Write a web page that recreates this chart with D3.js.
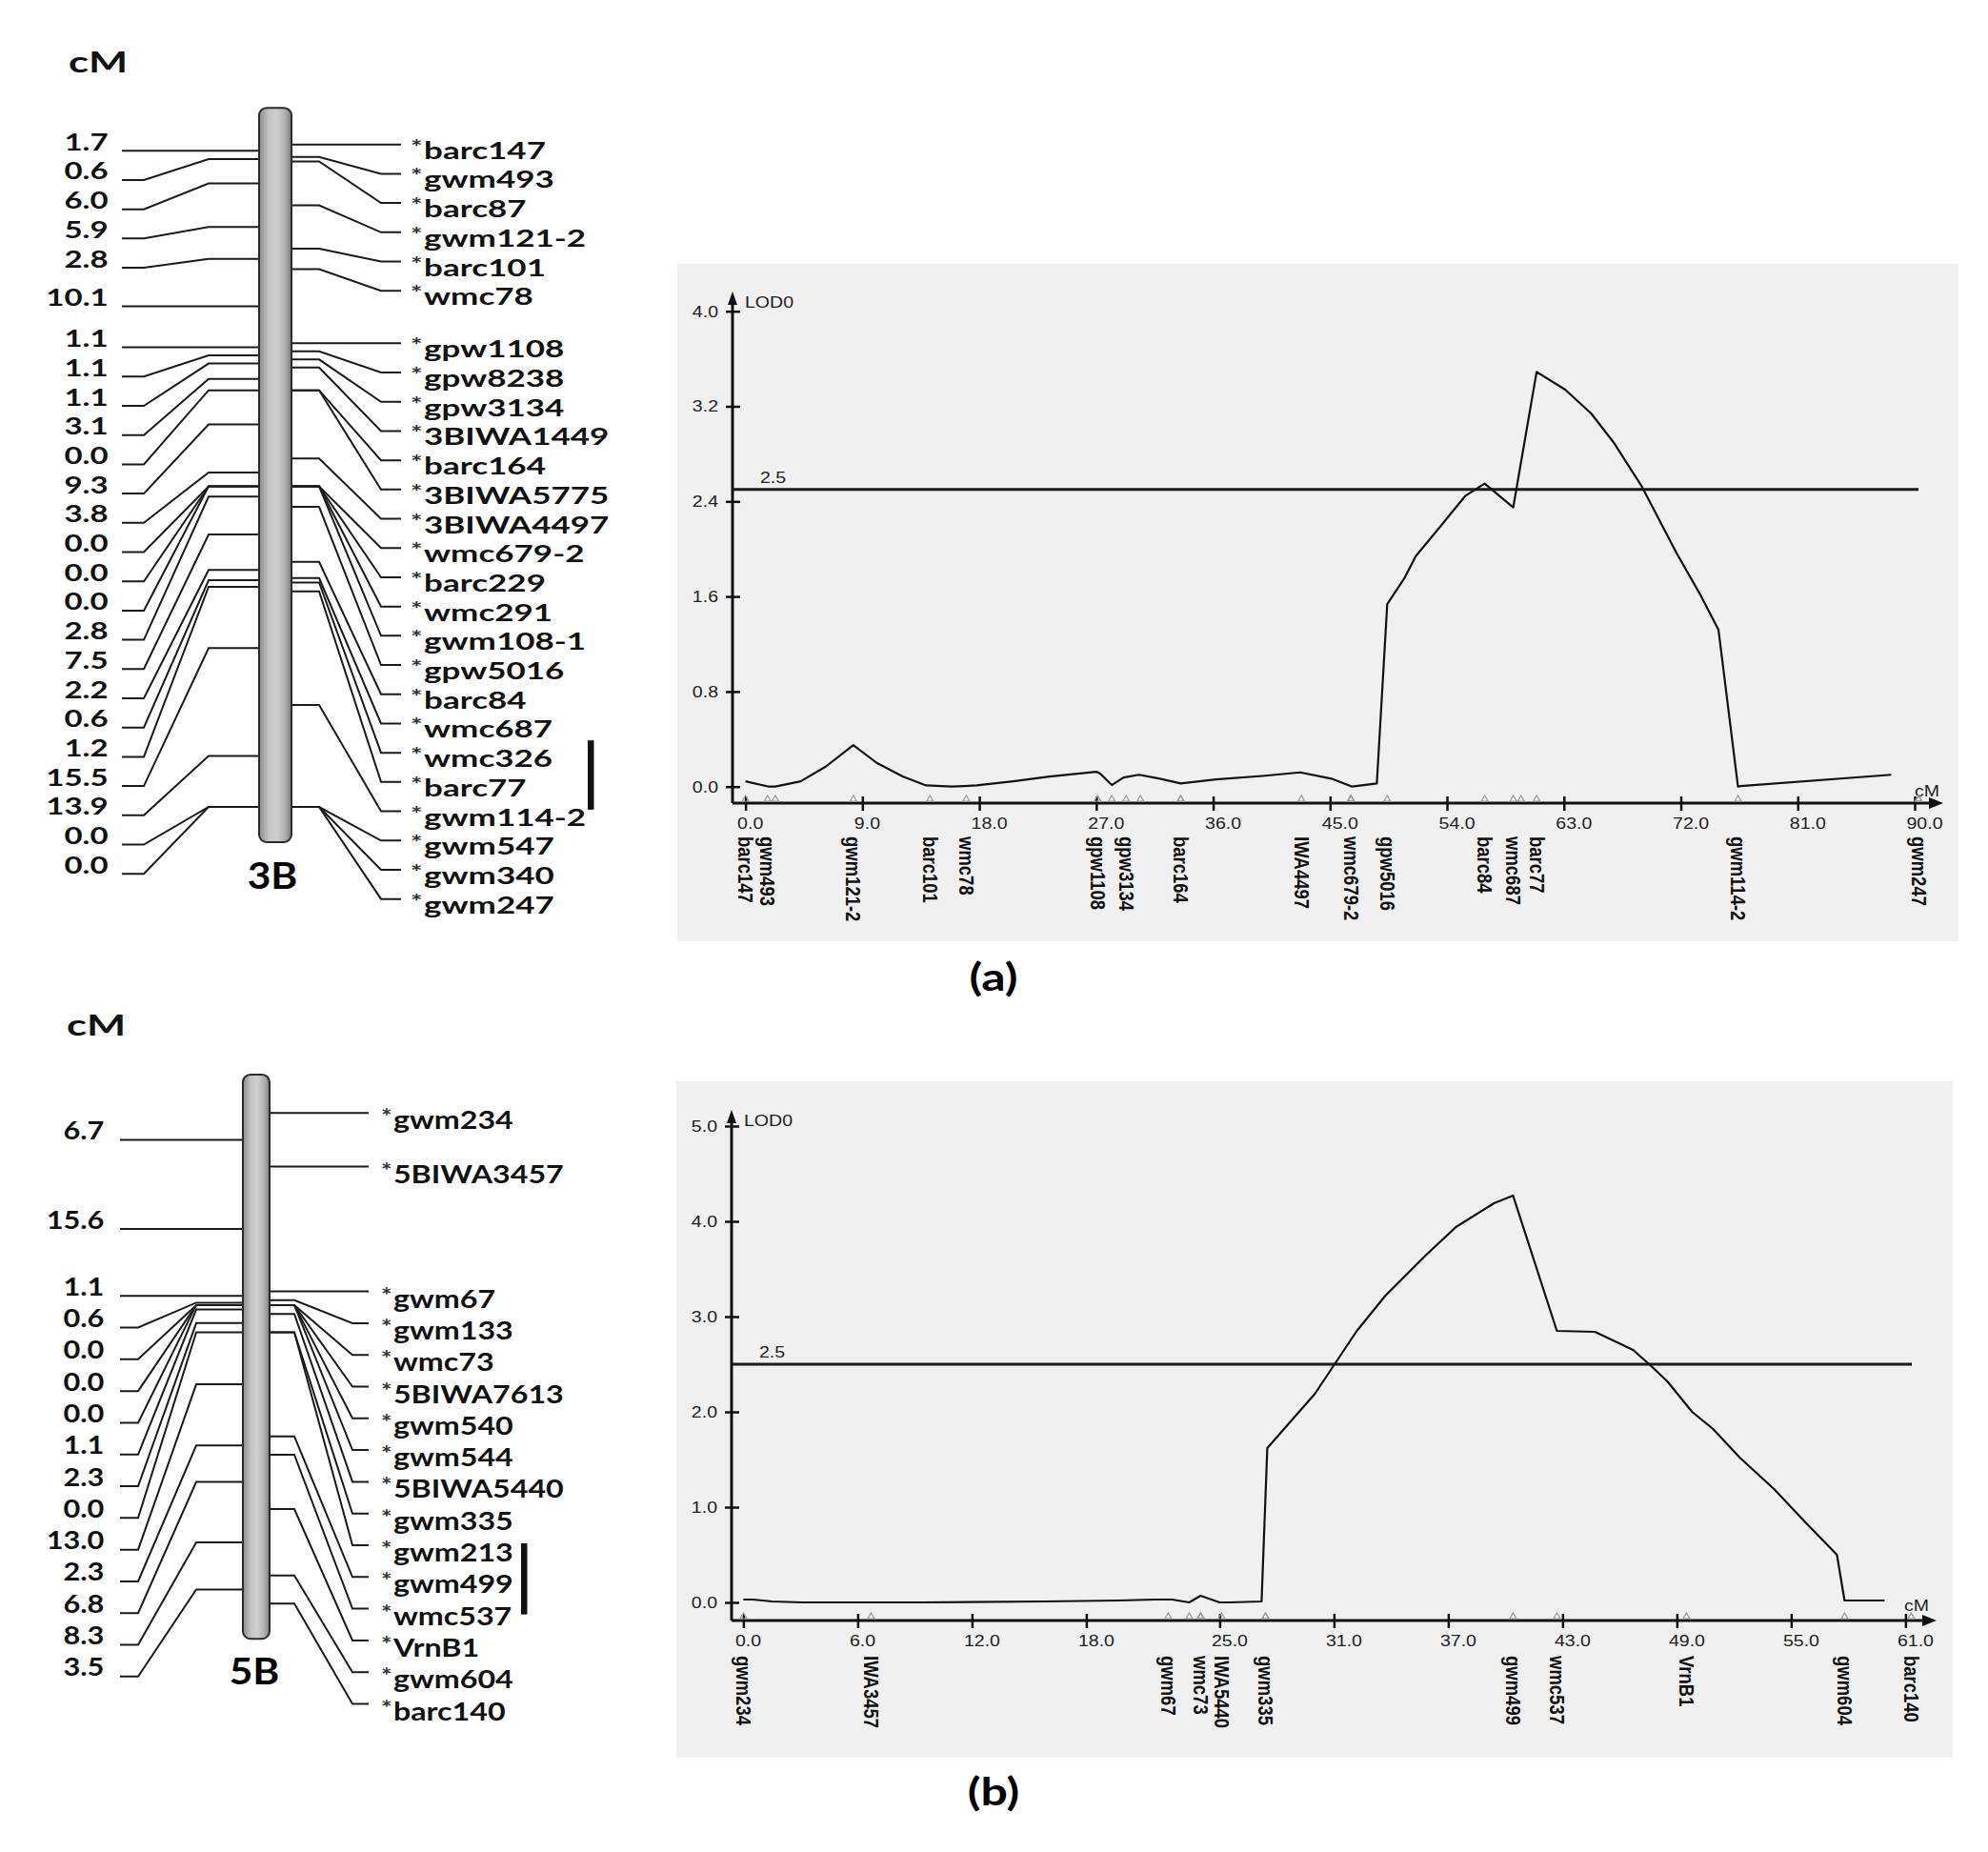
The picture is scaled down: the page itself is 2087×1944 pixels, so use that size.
<!DOCTYPE html>
<html><head><meta charset="utf-8">
<script src="https://cdn.jsdelivr.net/npm/d3@7"></script>
<style>body{margin:0;background:#fff} svg{display:block}</style>
</head><body>
<svg id="fig" width="2087" height="1944"></svg>
<script>
// ---------------- data ----------------
const markers3B = ["barc147","gwm493","barc87","gwm121-2","barc101","wmc78","gpw1108","gpw8238","gpw3134","3BIWA1449","barc164","3BIWA5775","3BIWA4497","wmc679-2","barc229","wmc291","gwm108-1","gpw5016","barc84","wmc687","wmc326","barc77","gwm114-2","gwm547","gwm340","gwm247"];
const intervals3B = [1.7,0.6,6.0,5.9,2.8,10.1,1.1,1.1,1.1,3.1,0.0,9.3,3.8,0.0,0.0,0.0,2.8,7.5,2.2,0.6,1.2,15.5,13.9,0.0,0.0];
const qtl3B = ["wmc326","barc77"];

const markers5B = ["gwm234","5BIWA3457","gwm67","gwm133","wmc73","5BIWA7613","gwm540","gwm544","5BIWA5440","gwm335","gwm213","gwm499","wmc537","VrnB1","gwm604","barc140"];
const intervals5B = [6.7,15.6,1.1,0.6,0.0,0.0,0.0,1.1,2.3,0.0,13.0,2.3,6.8,8.3,3.5];
const qtl5B = ["gwm213","wmc537"];

const lodA_cM = [0,1.8,2.3,4.25,6.2,8.3,10.1,12.1,13.9,15.9,17.8,20.6,23.4,27.0,27.3,28.2,29.1,30.3,31.9,33.5,36.2,39.8,42.7,45.1,46.7,48.6,49.4,50.7,51.6,53.5,55.4,56.9,59.1,60.9,63.1,65.1,66.9,69.0,71.7,73.5,74.9,76.4,76.6,88.2];
const lodA    = [0.045,0.0,0.0,0.045,0.17,0.35,0.2,0.085,0.01,0.0,0.01,0.045,0.085,0.125,0.11,0.013,0.077,0.1,0.067,0.027,0.06,0.09,0.12,0.067,0.0,0.027,1.535,1.75,1.94,2.19,2.445,2.55,2.35,3.49,3.34,3.14,2.885,2.525,1.96,1.615,1.32,0.0,0.005,0.1];
const xTicksA = [0,9,18,27,36,45,54,63,72,81,90];
const yTicksA = [0,0.8,1.6,2.4,3.2,4.0];
const labelsA = ["barc147","gwm493","gwm121-2","barc101","wmc78","gpw1108","gpw3134","barc164","IWA4497","wmc679-2","gpw5016","barc84","wmc687","barc77","gwm114-2","gwm247"];

const lodB_cM = [0,0.5,1.5,3.1,9.4,15.8,19.7,21.6,22.5,23.4,24.0,25.0,25.5,27.2,27.5,30.0,31.0,32.2,33.7,35.8,37.4,39.4,40.4,42.7,44.7,46.7,47.6,48.5,49.8,50.9,52.3,54.1,55.7,57.4,57.8,59.9];
const lodB    = [0.03,0.03,0.01,0.0,0.0,0.01,0.02,0.03,0.03,0.0,0.07,0.0,0.0,0.01,1.62,2.19,2.49,2.85,3.22,3.64,3.94,4.19,4.27,2.85,2.84,2.65,2.49,2.32,2.0,1.82,1.52,1.19,0.85,0.50,0.02,0.02];
const xTicksB = [0,6,12,18,25,31,37,43,49,55,61];
const yTicksB = [0,1,2,3,4,5];
const labelsB = ["gwm234","IWA3457","gwm67","wmc73","IWA5440","gwm335","gwm499","wmc537","VrnB1","gwm604","barc140"];

const threshold = 2.5;

// ---------------- helpers ----------------
const FONT_PLOT = "'Liberation Sans', Arial, sans-serif";
const FONT_MAP = "Lato, 'Open Sans', sans-serif";
const svg = d3.select("#fig");
svg.append("rect").attr("width",2087).attr("height",1944).attr("fill","#fff");

const defs = svg.append("defs");
const grad = defs.append("linearGradient").attr("id","chrom").attr("x1","0").attr("x2","1").attr("y1","0").attr("y2","0");
[["0%","#8c8c8c"],["30%","#c4c4c4"],["55%","#cfcfcf"],["80%","#b0b0b0"],["100%","#7d7d7d"]]
  .forEach(s=>grad.append("stop").attr("offset",s[0]).attr("stop-color",s[1]));

function sText(g, x, y, str, o) {
  return g.append("text")
    .attr("transform", `translate(${x},${y}) scale(${o.sx||1},1)`)
    .attr("text-anchor", o.anchor || "start")
    .attr("font-family", o.family || FONT_MAP)
    .attr("font-weight", o.weight || 700)
    .attr("font-size", o.size)
    .attr("fill", o.fill || "#111")
    .text(str);
}

function cumulative(intervals) {
  const p = [0];
  intervals.forEach((d,i)=>p.push(+(p[i]+d).toFixed(2)));
  return p;
}

// ---------------- linkage map ----------------
function drawMap(o) {
  const g = svg.append("g");
  const pos = cumulative(o.intervals);
  const total = pos[pos.length-1];
  const y = d3.scaleLinear().domain([0,total]).range([o.y0, o.y0 + o.k*total]);

  const rRows = [];
  pos.forEach((p,i)=>{ const yy = y(p); rRows.push(i===0 ? yy : Math.max(yy, rRows[i-1]+o.step)); });
  const mids = o.intervals.map((d,i)=>(pos[i]+pos[i+1])/2);
  const lRows = [];
  mids.forEach((m,i)=>{ const yy = y(m); lRows.push(i===0 ? yy : Math.max(yy, lRows[i-1]+o.step)); });

  const lineStyle = s => s.attr("fill","none").attr("stroke","#1a1a1a").attr("stroke-width",2);
  mids.forEach((m,i)=>{
    const ym = y(m), yr = lRows[i];
    g.append("path").attr("d", `M${o.lx0},${yr}H${o.lx1}L${o.lx2},${ym}H${o.barX}`).call(lineStyle);
    sText(g, o.leftTextX, yr - 0.5, o.intervals[i].toFixed(1), {anchor:"end", size:o.fs, sx:o.sxNum});
  });
  pos.forEach((p,i)=>{
    const yp = y(p), yr = rRows[i];
    g.append("path").attr("d", `M${o.barX+o.barW},${yp}H${o.rx1}L${o.rx2},${yr}H${o.rx3}`).call(lineStyle);
    const t = g.append("text")
      .attr("transform", `translate(${o.labelX},${yr + o.nameDy}) scale(${o.sx},1)`)
      .attr("font-family", FONT_MAP).attr("font-weight",700).attr("font-size",o.fs).attr("fill","#111");
    t.append("tspan").attr("font-size", o.fs*0.85).attr("font-weight",700).attr("fill","#333").attr("dy",-5).text("*");
    t.append("tspan").attr("dx",1).attr("dy",5).text(o.markers[i]);
  });
  g.append("rect").attr("x",o.barX).attr("width",o.barW)
    .attr("y", y(-o.padTop)).attr("height", y(total+o.padBot) - y(-o.padTop))
    .attr("rx", 8).attr("ry", 8)
    .attr("fill","url(#chrom)").attr("stroke","#2b2b2b").attr("stroke-width",2);

  const i0 = o.markers.indexOf(o.qtl[0]), i1 = o.markers.indexOf(o.qtl[1]);
  g.append("rect").attr("x",o.qtlX).attr("width",6.5)
    .attr("y", rRows[i0] + o.qtlOff[0]).attr("height", rRows[i1] + o.qtlOff[1] - rRows[i0] - o.qtlOff[0])
    .attr("fill","#111");

  sText(g, o.cmPos[0], o.cmPos[1], "cM", {anchor:"middle", size:30, sx:1.45});
  sText(g, o.chromLabelPos[0], o.chromLabelPos[1], o.chromLabel, {anchor:"middle", size:38, sx:1.12, fill:"#000"});
}

drawMap({markers:markers3B, intervals:intervals3B, qtl:qtl3B,
  y0:151.7, k:7.70, padTop:5.0, padBot:4.8, barX:272, barW:34, step:30.7,
  leftTextX:113.6, lx0:128, lx1:151, lx2:219, rx1:335, rx2:400, rx3:421, labelX:431,
  fs:25, sx:1.4, sxNum:1.32, nameDy:15, qtlX:617, qtlOff:[-13,29],
  cmPos:[103,76], chromLabel:"3B", chromLabelPos:[286,933]});

drawMap({markers:markers5B, intervals:intervals5B, qtl:qtl5B,
  y0:1168.3, k:8.4, padTop:4.8, padBot:4.4, barX:255, barW:28, step:33.3,
  leftTextX:109.4, lx0:126, lx1:145, lx2:206, rx1:309, rx2:370, rx3:387, labelX:400,
  fs:26, sx:1.24, sxNum:1.18, nameDy:17, qtlX:547, qtlOff:[-2,6],
  cmPos:[101,1087], chromLabel:"5B", chromLabelPos:[267,1768]});

// ---------------- QTL plots ----------------
function drawPlot(o) {
  const g = svg.append("g");
  g.append("rect").attr("x",o.bg[0]).attr("y",o.bg[1]).attr("width",o.bg[2]).attr("height",o.bg[3]).attr("fill","#f0f0f0");
  const x = d3.scaleLinear().domain(o.xDomain).range(o.xRange);
  const y = d3.scaleLinear().domain(o.yDomain).range(o.yRange);
  const SX = 1.15, FS = 17;

  const ya = g.append("g").attr("transform", `translate(${o.axisX+8},0)`)
    .call(d3.axisLeft(y).tickValues(o.yTicks).tickFormat(d3.format(".1f")).tickSize(15).tickPadding(8));
  ya.select(".domain").remove();
  ya.attr("font-family", FONT_PLOT).attr("font-size", FS);
  ya.selectAll(".tick line").attr("stroke","#111").attr("stroke-width",2.5);
  ya.selectAll(".tick text").attr("fill","#222").attr("transform",`scale(${SX},1)`).attr("x", -23/SX);

  const xa = g.append("g").attr("transform", `translate(0,${o.axisY-7})`)
    .call(d3.axisBottom(x).tickValues(o.xTicks).tickFormat(d3.format(".1f")).tickSize(15).tickPadding(7));
  xa.select(".domain").remove();
  xa.attr("font-family", FONT_PLOT).attr("font-size", FS);
  xa.selectAll(".tick line").attr("stroke","#111").attr("stroke-width",2.5);
  xa.selectAll(".tick text").attr("fill","#222").attr("text-anchor","start")
    .attr("transform",`scale(${SX},1)`).attr("x", -9/SX);

  g.append("line").attr("x1",o.axisX).attr("x2",o.axisX).attr("y1",o.axisY).attr("y2",o.yTip+10)
    .attr("stroke","#111").attr("stroke-width",3);
  g.append("path").attr("d",`M${o.axisX},${o.yTip}L${o.axisX-5},${o.yTip+14}L${o.axisX+5},${o.yTip+14}Z`).attr("fill","#111");
  g.append("line").attr("x1",o.axisX).attr("x2",o.xTip-10).attr("y1",o.axisY).attr("y2",o.axisY)
    .attr("stroke","#111").attr("stroke-width",3);
  g.append("path").attr("d",`M${o.xTip},${o.axisY}L${o.xTip-15},${o.axisY-6}L${o.xTip-15},${o.axisY+6}Z`).attr("fill","#111");

  g.append("line").attr("x1",o.axisX).attr("x2",o.thrEnd).attr("y1",y(threshold)).attr("y2",y(threshold))
    .attr("stroke","#1a1a1a").attr("stroke-width",3);
  sText(g, o.axisX+29, y(threshold)-7, threshold.toFixed(1), {size:FS, sx:SX, family:FONT_PLOT, weight:400, fill:"#222"});
  sText(g, o.axisX+13, o.yTip+17, "LOD0", {size:FS, sx:SX, family:FONT_PLOT, weight:400, fill:"#222"});
  sText(g, o.cmLabel[0], o.cmLabel[1], "cM", {anchor:"middle", size:FS, sx:SX, family:FONT_PLOT, weight:400, fill:"#222"});

  const pts = o.cM.map((c,i)=>[c,o.lod[i]]);
  g.append("path").datum(pts)
    .attr("d", d3.line().x(d=>x(d[0])).y(d=>y(d[1])))
    .attr("fill","none").attr("stroke","#111").attr("stroke-width",2.2).attr("stroke-linejoin","round");

  const pos = cumulative(o.intervals);
  pos.forEach(p=>{
    const px = x(p), py = o.axisY-2;
    g.append("path").attr("d",`M${px-3.5},${py}L${px},${py-6}L${px+3.5},${py}Z`)
      .attr("fill","none").attr("stroke","#9a9a9a").attr("stroke-width",1.2);
  });

  o.labels.forEach(l=>{
    const idx = o.markers.findIndex(m => m === l || m.endsWith(l));
    const px = x(pos[idx]);
    g.append("text")
      .attr("transform", `translate(${px},${o.labelTop}) rotate(90) scale(1,${SX})`)
      .attr("dy","0.35em")
      .attr("font-family", FONT_PLOT).attr("font-weight",700).attr("font-size",18.5).attr("fill","#111")
      .text(l);
  });

  sText(svg, o.panelLabel[0], o.panelLabel[1], o.panelLabel[2], {anchor:"middle", size:40, sx:1.25, fill:"#000"});
}

drawPlot({bg:[711,277,1345,711], xDomain:[0,90], xRange:[782.6,2010], yDomain:[0,4], yRange:[825.7,326.7],
  axisX:769, axisY:843, yTip:306, xTip:2040, thrEnd:2014, xTicks:xTicksA, yTicks:yTicksA,
  cM:lodA_cM, lod:lodA, markers:markers3B, intervals:intervals3B, labels:labelsA,
  labelTop:878, cmLabel:[2023,836], panelLabel:[1043,1040,"(a)"]});

drawPlot({bg:[710,1135,1340,710], xDomain:[0,61], xRange:[780.4,2000.4], yDomain:[0,5], yRange:[1682,1182],
  axisX:768, axisY:1701, yTip:1165, xTip:2033, thrEnd:2007, xTicks:xTicksB, yTicks:yTicksB,
  cM:lodB_cM, lod:lodB, markers:markers5B, intervals:intervals5B, labels:labelsB,
  labelTop:1738, cmLabel:[2012,1691], panelLabel:[1043,1895,"(b)"]});
</script>
</body></html>
